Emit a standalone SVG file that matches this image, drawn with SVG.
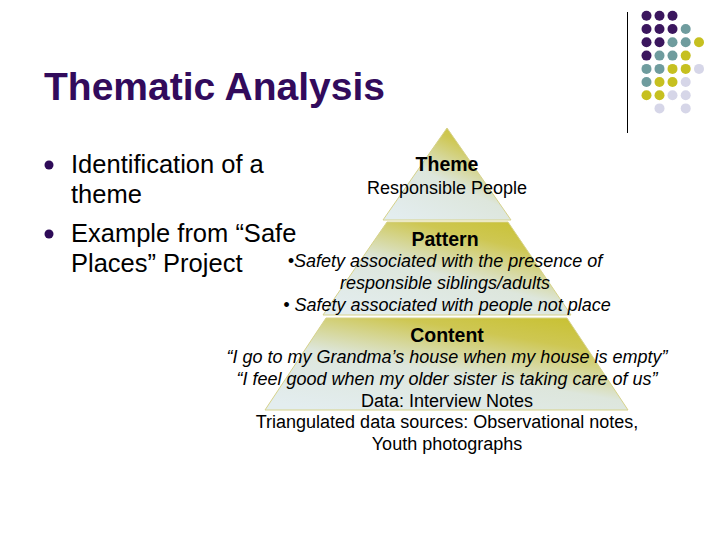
<svg xmlns="http://www.w3.org/2000/svg" width="720" height="540" viewBox="0 0 720 540">
<defs>
<linearGradient id="pg" x1="0.15" y1="1" x2="0.8" y2="0">
<stop offset="0" stop-color="#e3edef"/>
<stop offset="0.45" stop-color="#dde6dc"/>
<stop offset="0.8" stop-color="#cec752"/>
<stop offset="1" stop-color="#c9c236"/>
</linearGradient>
<style>
.sec{fill:url(#pg);stroke:#d6d28a;stroke-width:1}
.t{font-family:"Liberation Sans",Arial,sans-serif;fill:#000;text-anchor:middle;font-size:18px}
.b{font-weight:bold;font-size:19.5px}
.i{font-style:italic}
.bul{font-family:"Liberation Sans",Arial,sans-serif;font-size:25.5px;fill:#000}
.P{fill:#3b165e}.T{fill:#6f9c9e}.Y{fill:#c6c020}.L{fill:#d6d6e8}
</style>
</defs>
<rect width="720" height="540" fill="#fff"/>
<g id="decor">
<line x1="627.5" y1="12" x2="627.5" y2="133" stroke="#000" stroke-width="1"/>
<g id="dots">
<circle class="P" cx="646.5" cy="15.7" r="5"/><circle class="P" cx="659.5" cy="15.7" r="5"/><circle class="P" cx="672.5" cy="15.7" r="5"/>
<circle class="P" cx="646.5" cy="29" r="5"/><circle class="P" cx="659.5" cy="29" r="5"/><circle class="P" cx="672.5" cy="29" r="5"/><circle class="T" cx="685.7" cy="29" r="5"/>
<circle class="P" cx="646.5" cy="42.3" r="5"/><circle class="P" cx="659.5" cy="42.3" r="5"/><circle class="T" cx="672.5" cy="42.3" r="5"/><circle class="T" cx="685.7" cy="42.3" r="5"/><circle class="Y" cx="699" cy="42.3" r="5"/>
<circle class="P" cx="646.5" cy="55.6" r="5"/><circle class="T" cx="659.5" cy="55.6" r="5"/><circle class="T" cx="672.5" cy="55.6" r="5"/><circle class="Y" cx="685.7" cy="55.6" r="5"/>
<circle class="T" cx="646.5" cy="68.9" r="5"/><circle class="T" cx="659.5" cy="68.9" r="5"/><circle class="Y" cx="672.5" cy="68.9" r="5"/><circle class="Y" cx="685.7" cy="68.9" r="5"/><circle class="L" cx="699" cy="68.9" r="5"/>
<circle class="T" cx="646.5" cy="82" r="5"/><circle class="Y" cx="659.5" cy="82" r="5"/><circle class="Y" cx="672.5" cy="82" r="5"/><circle class="L" cx="685.7" cy="82" r="5"/>
<circle class="Y" cx="646.5" cy="95.2" r="5"/><circle class="Y" cx="659.5" cy="95.2" r="5"/><circle class="L" cx="672.5" cy="95.2" r="5"/><circle class="L" cx="685.7" cy="95.2" r="5"/>
<circle class="L" cx="659.5" cy="108.4" r="5"/><circle class="L" cx="685.7" cy="108.4" r="5"/>
</g>
</g>
<text id="title" x="44" y="100" font-family="Liberation Sans,Arial,sans-serif" font-weight="bold" font-size="39" fill="#320b5c">Thematic Analysis</text>
<g id="bullets">
<circle cx="49" cy="165" r="4.5" fill="#2e0b58"/>
<circle cx="49" cy="234" r="4.5" fill="#2e0b58"/>
<text class="bul" x="71" y="173">Identification of a</text>
<text class="bul" x="71" y="203">theme</text>
<text class="bul" x="71" y="242">Example from “Safe</text>
<text class="bul" x="71" y="272">Places” Project</text>
</g>
<g id="connectors"></g>
<g id="theme">
<polygon class="sec" points="447,128 511,220 383,220"/>
<text class="t b" x="447" y="171">Theme</text>
<text class="t" x="447" y="194">Responsible People</text>
</g>
<g id="pattern">
<polygon class="sec" points="387,222 508,222 571,315 323,315"/>
<text class="t b" x="445" y="246">Pattern</text>
<text class="t i" x="445" y="267">•Safety associated with the presence of</text>
<text class="t i" x="445" y="289">responsible siblings/adults</text>
<text class="t i" x="447" y="311">• Safety associated with people not place</text>
</g>
<g id="content">
<polygon class="sec" points="326,318 567,318 628,410 265,410"/>
<text class="t b" x="447" y="342">Content</text>
<text class="t i" x="447" y="363">“I go to my Grandma’s house when my house is empty”</text>
<text class="t i" x="447" y="385">“I feel good when my older sister is taking care of us”</text>
<text class="t" x="447" y="407">Data: Interview Notes</text>
<text class="t" x="447" y="428">Triangulated data sources: Observational notes,</text>
<text class="t" x="447" y="450">Youth photographs</text>
</g>
</svg>
